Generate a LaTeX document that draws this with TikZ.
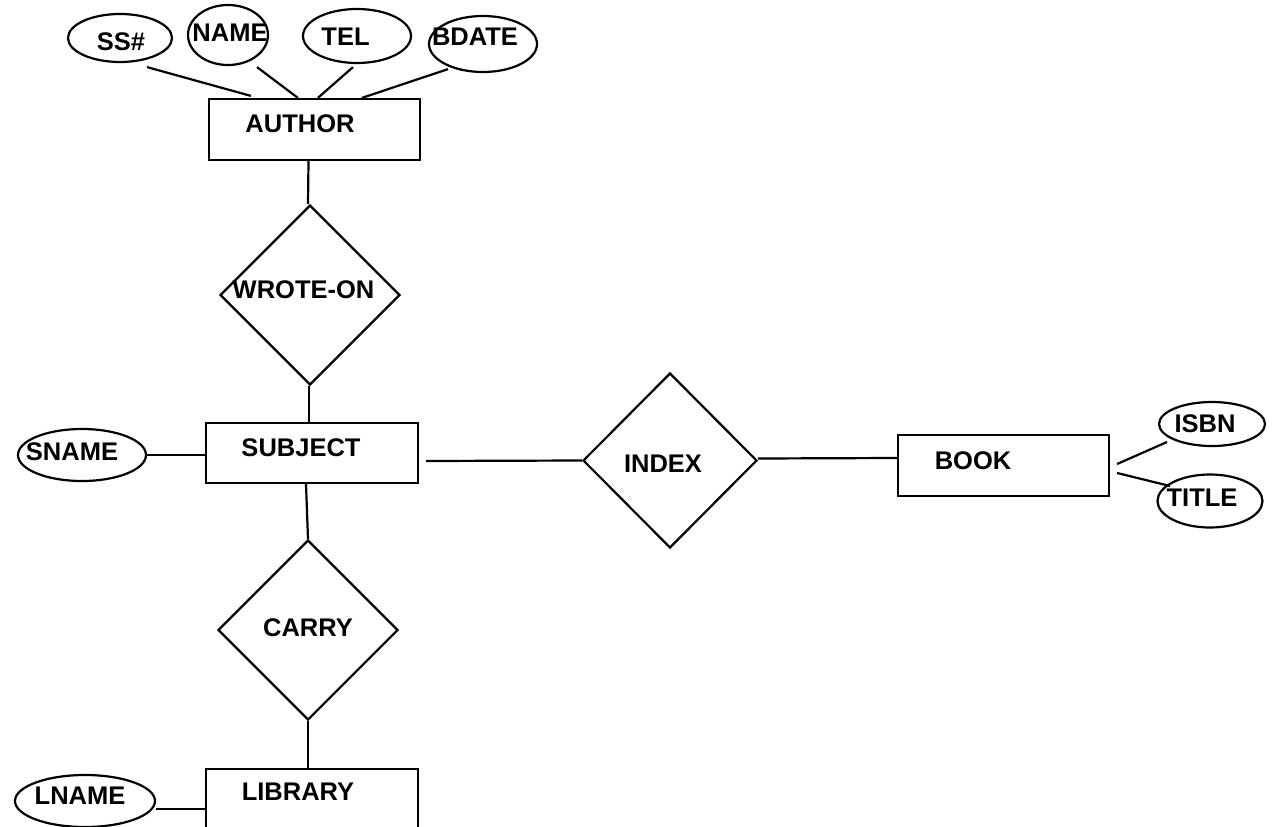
\documentclass[tikz,border=0pt]{standalone}
\usepackage{fontspec}
\setmainfont{Liberation Sans}
\usetikzlibrary{shapes.geometric,calc}
\begin{document}
\begin{tikzpicture}[x=1pt,y=-1pt,
  font=\fontsize{25.5}{30}\selectfont\bfseries,
  ent/.style={draw, rectangle, line width=2.2pt, inner sep=0pt,
              minimum width=211pt, minimum height=61pt},
  attr/.style={draw, ellipse, line width=2.2pt, inner sep=0pt},
  rel/.style={draw, diamond, line width=2.2pt, inner sep=0pt,
              minimum width=180pt, minimum height=180pt},
  link/.style={line width=2.2pt},
  every label/.style={inner sep=0pt}]
\clip (0,0) rectangle (1272,827);
\fill[white] (0,0) rectangle (1272,827);

% entities
\node[ent, label={[xshift=-14.5pt,yshift=5.5pt]center:AUTHOR}] (author) at (314.5,129.5) {};
\node[ent, minimum width=212pt, minimum height=60pt,
      label={[xshift=-11pt,yshift=5pt]center:SUBJECT}] (subject) at (312,453) {};
\node[ent, minimum width=212pt, label={[xshift=-14pt,yshift=7.5pt]center:LIBRARY}] (library) at (312,799.5) {};
\node[ent, label={[xshift=-30.5pt,yshift=4.5pt]center:BOOK}] (book) at (1003.5,465.5) {};

% relationships
\node[rel, label={[xshift=-6.5pt,yshift=5pt]center:WROTE-ON}] (wrote) at (310,295) {};
\node[rel, label={[xshift=0pt,yshift=2pt]center:CARRY}] (carry) at (308,630) {};
\node[rel, minimum width=174pt, minimum height=175pt,
      label={[xshift=-7pt,yshift=-3pt]center:INDEX}] (index) at (670,460.5) {};

% attributes
\node[attr, minimum width=104pt, minimum height=48pt,
      label={[xshift=1pt,yshift=-3.5pt]center:SS\#}] (ss) at (120,38) {};
\node[attr, minimum width=80pt, minimum height=60pt,
      label={[xshift=2pt,yshift=2.5pt]center:NAME}] (name) at (228,35) {};
\node[attr, minimum width=108pt, minimum height=54pt,
      label={[xshift=-11.5pt,yshift=-1pt]center:TEL}] (tel) at (357,36) {};
\node[attr, minimum width=108pt, minimum height=56pt,
      label={[xshift=-8pt,yshift=7pt]center:BDATE}] (bdate) at (483,44) {};
\node[attr, minimum width=128pt, minimum height=52pt,
      label={[xshift=-10pt,yshift=3pt]center:SNAME}] (sname) at (82,455) {};
\node[attr, minimum width=140pt, minimum height=52pt,
      label={[xshift=-5pt,yshift=5pt]center:LNAME}] (lname) at (85,801) {};
\node[attr, minimum width=106pt, minimum height=44pt,
      label={[xshift=-7pt,yshift=0pt]center:ISBN}] (isbn) at (1212,424) {};
\node[attr, minimum width=105pt, minimum height=53pt,
      label={[xshift=-8pt,yshift=3pt]center:TITLE}] (title) at (1210,501) {};

% attribute links
\draw[link] ($(ss.south)+(27,4)$) -- ($(author.north west)+(43,-2)$);
\draw[link] ($(name.south)+(29,1)$) -- ($(author.north west)+(90,0)$);
\draw[link] ($(tel.south)+(-4,3)$) -- ($(author.north west)+(110,0)$);
\draw[link] ($(bdate.south)+(-35,-4)$) -- ($(author.north west)+(154,0)$);
\draw[link] (sname.east) -- (sname.east -| subject.west);
\draw[link] ($(lname.east)+(0,8)$) -- ($(library.west)+(0,9.5)$);
\draw[link] ($(book.east)+(7,-1.5)$) -- ($(isbn.center)+(-45,18)$);
\draw[link] ($(book.east)+(7,7.5)$) -- ($(title.center)+(-40,-15)$);

% relationship links
\draw[link] ($(author.south)+(-6,0)$) -- ($(wrote.north)+(-2,0)$);
\draw[link] ($(wrote.south)+(-1,0)$) -- ($(subject.north)+(-3,0)$);
\draw[link] ($(subject.south)+(-6,0)$) -- (carry.north);
\draw[link] (carry.south) -- (carry.south |- library.north);
\draw[link] ($(subject.east)+(7,8)$) -- (index.west);
\draw[link] ($(index.east)+(0,-2)$) -- ($(book.west)+(0,-7.5)$);
\end{tikzpicture}
\end{document}
